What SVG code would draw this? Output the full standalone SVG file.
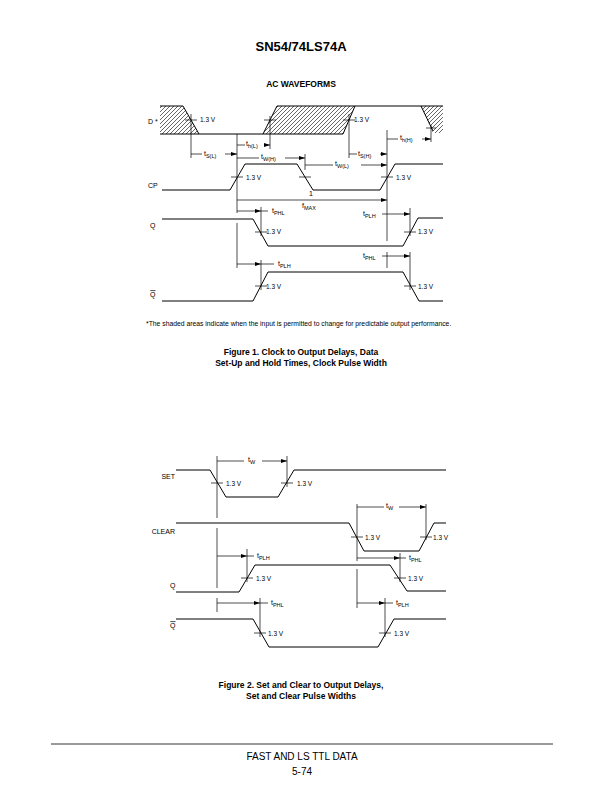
<svg xmlns="http://www.w3.org/2000/svg" width="612" height="792" viewBox="0 0 612 792">
<style>
text{font-family:"Liberation Sans",Arial,sans-serif;fill:#000}
.w{fill:none;stroke:#000;stroke-width:1}
.e{fill:none;stroke:#000;stroke-width:0.7}
.d{fill:none;stroke:#000;stroke-width:0.7;marker-end:url(#a)}
.l{font-size:7px}
.v{font-size:6.5px}
.s{font-size:5.5px}
.b{font-weight:bold}
</style>
<defs>
<marker id="a" viewBox="0 0 6 4" refX="6" refY="2" markerWidth="6" markerHeight="4" orient="auto" markerUnits="userSpaceOnUse"><path d="M0,0L6,2L0,4z"/></marker>
<pattern id="h" patternUnits="userSpaceOnUse" width="4" height="4"><path d="M-1,1L1,-1M0,4L4,0M3,5L5,3" stroke="#000" stroke-width="0.6"/></pattern>
</defs>
<rect width="612" height="792" fill="#fff"/>
<text x="301" y="51" text-anchor="middle" font-size="13" class="b">SN54/74LS74A</text>
<text x="301" y="87" text-anchor="middle" font-size="8.5" class="b">AC WAVEFORMS</text>

<g id="fig1-D">
<path d="M160,106L183,106L199,134L160,134Z" fill="url(#h)"/>
<path d="M263,134L277,106L355,106L343,134Z" fill="url(#h)"/>
<path d="M421,106L443,106L443,133L433,133Z" fill="url(#h)"/>
<path class="w" d="M160,106L183,106L199,134M160,134L343,134L355,106M263,134L277,106L443,106M421,106L433,131"/>
<text x="148" y="124" class="l">D *</text>
<path class="e" d="M185,120H197M264,120H276M343,120H355M426,128H436"/>
<text x="200" y="122" class="v">1.3 V</text>
<text x="354" y="122" class="v">1.3 V</text>
</g>
<g id="fig1-CP">
<path class="w" d="M162,190L230,190L245,164L297,164L313,190L380,190L395,164L443,164"/>
<text x="148" y="188" class="l">CP</text>
<path class="e" d="M231,177H243M299,177H311M381,177H393"/>
<text x="246" y="180" class="v">1.3 V</text>
<text x="396" y="180" class="v">1.3 V</text>
</g>
<g id="fig1-Q">
<path class="w" d="M162,219L253,219L268,246L403,246L418,218L443,218"/>
<text x="150" y="228" class="l">Q</text>
<path class="e" d="M255,232H267M404,232H416"/>
<text x="266" y="234" class="v">1.3 V</text>
<text x="418" y="234" class="v">1.3 V</text>
</g>
<g id="fig1-Qbar">
<path class="w" d="M162,301L253,301L268,272L403,272L419,301L443,301"/>
<text x="150" y="297" class="l">Q</text>
<path class="e" d="M150.3,290.6H155.5"/>
<path class="e" d="M255,286H267M404,286H416"/>
<text x="266" y="289" class="v">1.3 V</text>
<text x="418" y="289" class="v">1.3 V</text>
</g>

<g id="connectors">
<path class="e" d="M191,114V158M270,116V149M349,114V158M431,125V142M237,134V213M237,223V268M387,130V241M387,252V268M305,154V170M261,207V236M410,208V236M261,260V290M410,252V290"/>
<path class="d" d="M202,154H191M225,154H237"/>
<path class="d" d="M245,145H237M265,145H270"/>
<path class="d" d="M259,158H237M285,158H305"/>
<path class="d" d="M357,154H349M380,154H387"/>
<path class="d" d="M333,165H305M361,165H387"/>
<path class="d" d="M398,139H387M422,139H431"/>
<path class="d" d="M311,200H237M311,200H387"/>
<path class="d" d="M249,211H237M249,211H261"/>
<path class="e" d="M261,211H268"/>
<path class="d" d="M398,214H387M398,214H410"/>
<path class="e" d="M382,214H387"/>
<path class="d" d="M249,264H237M249,264H261"/>
<path class="e" d="M261,264H274"/>
<path class="d" d="M398,256H387M398,256H410"/>
<path class="e" d="M382,256H387"/>

<path class="e" d="M217,456V518M217,528V588M217,598V612M287,456V487M357,504V561M357,569V608M426,504V540M247,549V582M400,553V582M260,598V637M385,598V637"/>
<path class="d" d="M244,461H217M262,461H287"/>
<path class="d" d="M384,507H357M399,507H426"/>
<path class="d" d="M232,556H217M232,556H247"/>
<path class="e" d="M247,556H254"/>
<path class="d" d="M378,558H357M378,558H400"/>
<path class="e" d="M400,558H406"/>
<path class="d" d="M238,603H217M238,603H260"/>
<path class="e" d="M260,603H268"/>
<path class="d" d="M371,603H357M371,603H385"/>
<path class="e" d="M385,603H393"/>
</g>

<g id="fig1-labels">
<text x="204" y="156" class="l">t<tspan class="s" dy="1.5">S(L)</tspan></text>
<text x="246" y="146" class="l">t<tspan class="s" dy="1.5">h(L)</tspan></text>
<text x="261" y="159" class="l">t<tspan class="s" dy="1.5">W(H)</tspan></text>
<text x="358" y="156" class="l">t<tspan class="s" dy="1.5">S(H)</tspan></text>
<text x="335" y="166" class="l">t<tspan class="s" dy="1.5">W(L)</tspan></text>
<text x="400" y="140" class="l">t<tspan class="s" dy="1.5">h(H)</tspan></text>
<text x="311" y="196" class="l" text-anchor="middle">1</text>
<text x="302" y="208" class="l">f<tspan class="s" dy="1.5">MAX</tspan></text>
<text x="272" y="213" class="l">t<tspan class="s" dy="1.5">PHL</tspan></text>
<text x="363" y="216" class="l">t<tspan class="s" dy="1.5">PLH</tspan></text>
<text x="278" y="266" class="l">t<tspan class="s" dy="1.5">PLH</tspan></text>
<text x="363" y="258" class="l">t<tspan class="s" dy="1.5">PHL</tspan></text>
</g>

<text x="146" y="326" font-size="6.8">*The shaded areas indicate when the input is permitted to change for predictable output performance.</text>
<text x="301" y="355" text-anchor="middle" font-size="8.5" class="b">Figure 1. Clock to Output Delays, Data</text>
<text x="301" y="366" text-anchor="middle" font-size="8.5" class="b">Set-Up and Hold Times, Clock Pulse Width</text>

<g id="fig2-SET">
<path class="w" d="M176,470L210,470L226,497L278,497L294,470L446,470"/>
<text x="175" y="479" class="l" text-anchor="end">SET</text>
<path class="e" d="M211,483H223M281,483H293"/>
<text x="226" y="486" class="v">1.3 V</text>
<text x="297" y="486" class="v">1.3 V</text>
</g>
<g id="fig2-CLEAR">
<path class="w" d="M176,523L349,523L364,551L419,551L434,523L446,523"/>
<text x="175" y="534" class="l" text-anchor="end">CLEAR</text>
<path class="e" d="M351,537H363M420,537H432"/>
<text x="365" y="540" class="v">1.3 V</text>
<text x="433" y="540" class="v">1.3 V</text>
</g>
<g id="fig2-Q">
<path class="w" d="M176,592L239,592L255,565L390,565L407,591L446,591"/>
<text x="170" y="588" class="l">Q</text>
<path class="e" d="M241,578H253M394,578H406"/>
<text x="256" y="581" class="v">1.3 V</text>
<text x="408" y="581" class="v">1.3 V</text>
</g>
<g id="fig2-Qbar">
<path class="w" d="M176,619L253,619L269,647L378,647L394,619L446,619"/>
<text x="170" y="628" class="l">Q</text>
<path class="e" d="M170.3,621.6H175.5"/>
<path class="e" d="M254,633H266M379,633H391"/>
<text x="268" y="636" class="v">1.3 V</text>
<text x="394" y="636" class="v">1.3 V</text>
</g>
<g id="fig2-labels">
<text x="248" y="462" class="l">t<tspan class="s" dy="1.5">W</tspan></text>
<text x="386" y="508" class="l">t<tspan class="s" dy="1.5">W</tspan></text>
<text x="257" y="558" class="l">t<tspan class="s" dy="1.5">PLH</tspan></text>
<text x="409" y="560" class="l">t<tspan class="s" dy="1.5">PHL</tspan></text>
<text x="271" y="605" class="l">t<tspan class="s" dy="1.5">PHL</tspan></text>
<text x="396" y="605" class="l">t<tspan class="s" dy="1.5">PLH</tspan></text>
</g>

<text x="301" y="688" text-anchor="middle" font-size="8.5" class="b">Figure 2. Set and Clear to Output Delays,</text>
<text x="301" y="699" text-anchor="middle" font-size="8.5" class="b">Set and Clear Pulse Widths</text>

<path d="M51,744H553" stroke="#000" stroke-width="0.8"/>
<text x="302" y="760" text-anchor="middle" font-size="10">FAST AND LS TTL DATA</text>
<text x="302" y="775" text-anchor="middle" font-size="10">5-74</text>
</svg>
